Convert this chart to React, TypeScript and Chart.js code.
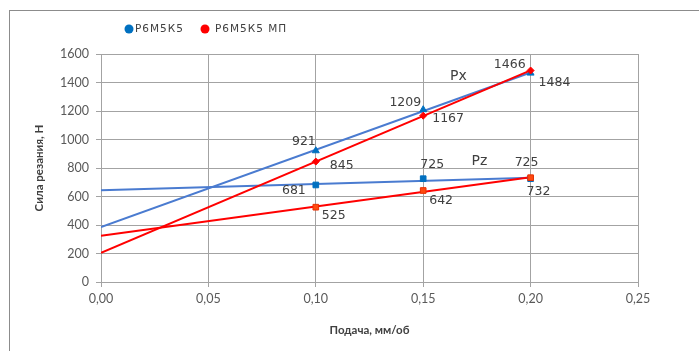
import React, { useEffect, useRef } from 'react';
import { Chart, registerables } from 'chart.js';

Chart.register(...registerables);

// ---- data ----
const feeds = [0.1, 0.15, 0.2];
const pxBase = [921, 1209, 1466];
const pxMp = [845, 1167, 1484];
const pzBase = [681, 725, 725];
const pzMp = [525, 642, 732];

const trendX = [0, 0.2];
const pxBaseTrend = [385, 1470];
const pxMpTrend = [205, 1485];
const pzBaseTrend = [643, 732];
const pzMpTrend = [325, 735];

const seriesNames = ['Р6М5К5', 'Р6М5К5 МП'];
const xTickLabels = ['0,00', '0,05', '0,10', '0,15', '0,20', '0,25'];
const yTickLabels = ['0', '200', '400', '600', '800', '1000', '1200', '1400', '1600'];
const xTitle = 'Подача, мм/об';
const yTitle = 'Сила резания, Н';
const annotations = ['Px', 'Pz'];

const BLUE_LINE = '#4a7bd0';
const BLUE_MARK = '#0070c0';
const RED = '#ff0000';
const GRID = '#a3a3a3';
const TEXT = '#404040';

const pts = (xs: number[], ys: number[]) => xs.map((x, i) => ({ x, y: ys[i] }));

// label placement: [align, dx, dy]
type Off = [CanvasTextAlign, number, number];
const labelSpec: { ds: number; values: number[]; offs: Off[] }[] = [
  { ds: 4, values: pxBase, offs: [['right', 0, -9], ['right', -2, -7], ['right', -5, -8]] },
  { ds: 6, values: pzBase, offs: [['right', -10, 6], ['center', 9, -14], ['center', -4, -16]] },
  { ds: 5, values: pxMp, offs: [['left', 14, 4], ['left', 9, 3], ['left', 8, 12]] },
  { ds: 7, values: pzMp, offs: [['left', 6, 9], ['left', 6, 10], ['left', -4, 14]] },
];

const decorPlugin = {
  id: 'decor',
  afterDatasetsDraw(chart: any) {
    const ctx = chart.ctx as CanvasRenderingContext2D;
    ctx.save();
    ctx.font = '12.5px "DejaVu Sans"';
    ctx.fillStyle = TEXT;
    ctx.textBaseline = 'middle';
    labelSpec.forEach(({ ds, values, offs }) => {
      const meta = chart.getDatasetMeta(ds);
      meta.data.forEach((el: any, i: number) => {
        const [align, dx, dy] = offs[i];
        ctx.textAlign = align;
        ctx.fillText(String(values[i]), el.x + dx, el.y + dy);
      });
    });
    // Px / Pz annotations
    ctx.textAlign = 'left';
    ctx.textBaseline = 'alphabetic';
    ctx.font = '14px "DejaVu Sans"';
    const xs = chart.scales.x;
    const ys = chart.scales.y;
    ctx.fillText(annotations[0], xs.getPixelForValue(0.1625), ys.getPixelForValue(1420));
    ctx.fillText(annotations[1], xs.getPixelForValue(0.1725), ys.getPixelForValue(820));
    ctx.restore();
  },
  afterDraw(chart: any) {
    const ctx = chart.ctx as CanvasRenderingContext2D;
    ctx.save();
    ctx.font = '10.5px "DejaVu Sans"';
    (ctx as any).letterSpacing = '1px';
    ctx.textBaseline = 'middle';
    ctx.textAlign = 'left';
    const items = [
      { name: seriesNames[0], color: BLUE_MARK, cx: 129, tx: 135 },
      { name: seriesNames[1], color: RED, cx: 205, tx: 215 },
    ];
    items.forEach((it) => {
      ctx.fillStyle = it.color;
      ctx.beginPath();
      ctx.arc(it.cx, 29, 4.5, 0, Math.PI * 2);
      ctx.fill();
      ctx.fillStyle = TEXT;
      ctx.fillText(it.name, it.tx, 29);
    });
    ctx.restore();
  },
};

export default function App() {
  const ref = useRef<HTMLCanvasElement>(null);
  useEffect(() => {
    if (!ref.current) return;
    const chart = new Chart(ref.current, {
      type: 'scatter',
      data: {
        datasets: [
          { label: seriesNames[0] + ' Px', data: pts(trendX, pxBaseTrend), showLine: true, borderColor: BLUE_LINE, borderWidth: 2, pointRadius: 0, order: 3 },
          { label: seriesNames[1] + ' Px', data: pts(trendX, pxMpTrend), showLine: true, borderColor: RED, borderWidth: 2, pointRadius: 0, order: 2 },
          { label: seriesNames[0] + ' Pz', data: pts(trendX, pzBaseTrend), showLine: true, borderColor: BLUE_LINE, borderWidth: 2, pointRadius: 0, order: 3 },
          { label: seriesNames[1] + ' Pz', data: pts(trendX, pzMpTrend), showLine: true, borderColor: RED, borderWidth: 2, pointRadius: 0, order: 2 },
          { label: seriesNames[0], data: pts(feeds, pxBase), pointStyle: 'triangle', pointRadius: 4, backgroundColor: BLUE_MARK, borderColor: BLUE_MARK, borderWidth: 1, order: 1 },
          { label: seriesNames[1], data: pts(feeds, pxMp), pointStyle: 'rectRot', pointRadius: 3.5, backgroundColor: RED, borderColor: RED, borderWidth: 1, order: 0 },
          { label: seriesNames[0], data: pts(feeds, pzBase), pointStyle: 'rect', pointRadius: 4, backgroundColor: BLUE_MARK, borderColor: BLUE_MARK, borderWidth: 1, order: 1 },
          { label: seriesNames[1], data: pts(feeds, pzMp), pointStyle: 'rect', pointRadius: 4, backgroundColor: '#ff4a10', borderColor: '#e83000', borderWidth: 1, order: 0 },
        ],
      },
      options: {
        responsive: false,
        animation: false,
        layout: { padding: { left: 0, top: 54, right: 61, bottom: 0 } },
        plugins: { legend: { display: false }, tooltip: { enabled: false } },
        scales: {
          x: {
            type: 'linear',
            min: 0,
            max: 0.25,
            afterFit: (s: any) => { s.height = 69; },
            ticks: {
              stepSize: 0.05,
              padding: 4,
              color: '#595959',
              font: { family: 'Lato', size: 12.5 },
              callback: (_v: any, i: number) => xTickLabels[i],
            },
            grid: { color: GRID, tickLength: 5, tickColor: GRID },
            border: { color: GRID },
            title: {
              display: true,
              text: xTitle,
              color: TEXT,
              font: { family: 'Lato', size: 11.5, weight: 'bold' },
              padding: { top: 0, bottom: 14 },
            },
          },
          y: {
            type: 'linear',
            min: 0,
            max: 1600,
            afterFit: (s: any) => { s.width = 101; },
            ticks: {
              stepSize: 200,
              padding: 7,
              color: '#595959',
              font: { family: 'Lato', size: 12.5 },
              callback: (_v: any, i: number) => yTickLabels[i],
            },
            grid: { color: GRID, tickLength: 5, tickColor: GRID },
            border: { color: GRID },
            title: {
              display: true,
              text: yTitle,
              color: TEXT,
              font: { family: 'Lato', size: 11.5, weight: 'bold' },
              padding: { top: 32, bottom: 0 },
            },
          },
        },
      },
      plugins: [decorPlugin],
    });
    return () => chart.destroy();
  }, []);

  return (
    <div style={{ position: 'fixed', left: 0, top: 0, width: 699, height: 351, background: '#fff', overflow: 'hidden' }}>
      <div style={{ position: 'absolute', left: 9, top: 10, width: 720, height: 400, border: '1px solid #8c8c8c' }} />
      <canvas ref={ref} width={699} height={351} style={{ position: 'absolute', left: 0, top: 0 }} />
    </div>
  );
}
